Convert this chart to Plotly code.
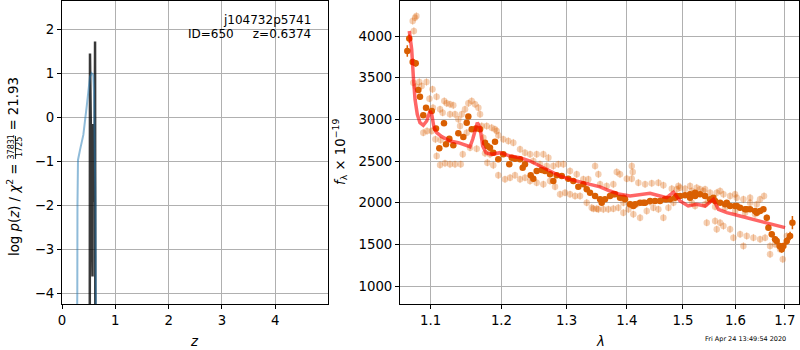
import plotly.graph_objects as go

# ---------------- data: left panel (redshift PDF) ----------------
z_blue = [0.27, 0.287, 0.29, 0.30, 0.338, 0.40, 0.463, 0.525, 0.557, 0.587, 0.60, 0.615, 0.628, 0.634, 0.64]
logp_blue = [-6.0, -4.0, -2.0, -0.97, -0.74, -0.4, 0.24, 0.92, 1.0, 0.96, 0.6, -0.5, -1.95, -4.0, -6.0]

z_black = [0.52, 0.525, 0.572, 0.576, 0.61, 0.62, 0.626]
logp_black = [-6.0, 1.45, -3.62, -0.15, -1.92, 1.72, -6.0]

# ---------------- data: right panel (spectrum) ----------------
wave_light = [1.0790, 1.0808, 1.0759, 1.0775, 1.0767, 1.0801, 1.0847, 1.0878, 1.0943, 1.1024, 1.0983, 1.1080,
              1.1031, 1.1127, 1.1185, 1.1217, 1.1264, 1.1310, 1.1163, 1.1264, 1.1334, 1.0900, 1.0951, 1.1014,
              1.1064, 1.1136, 1.1081, 1.1127, 1.1195, 1.1264, 1.1334, 1.1414, 1.1380, 1.1428, 1.1474, 1.1521,
              1.1569, 1.1616, 1.1664, 1.1688, 1.1404, 1.1498, 1.1712, 1.1784, 1.1856, 1.1930, 1.1736, 1.1545,
              1.1640, 1.1760, 1.1832, 1.1793, 1.1880, 1.1953, 1.1442,
              1.1905, 1.1953, 1.2027, 1.2101, 1.2176, 1.2277, 1.2352, 1.2429, 1.2531, 1.2634, 1.2713, 1.2052,
              1.2127, 1.2201, 1.2277, 1.2352, 1.2429, 1.2531, 1.2634, 1.2738, 1.2817, 1.2896, 1.2975, 1.3055,
              1.3136, 1.3217, 1.3326, 1.3408, 1.3491, 1.2479, 1.2582, 1.2687, 1.2790, 1.2869, 1.2949, 1.3055,
              1.3163, 1.3271, 1.3352, 1.3463,
              1.3518, 1.3827, 1.3883, 1.4102, 1.4085, 1.3999, 1.4085, 1.4199, 1.4317, 1.4435, 1.4553, 1.4643,
              1.4795, 1.4916, 1.5038, 1.3546, 1.3657, 1.3769, 1.3435, 1.3518, 1.3601, 1.3685, 1.3769, 1.3854,
              1.3940, 1.4026, 1.4112, 1.4229, 1.4346, 1.4464, 1.4553, 1.4643, 1.4734, 1.4825, 1.3940, 1.4055,
              1.4171, 1.4405,
              1.5256, 1.5381, 1.5508, 1.5636, 1.5765, 1.5894, 1.6025, 1.6157, 1.6290, 1.6424, 1.6572, 1.5163,
              1.5445, 1.5604, 1.5700, 1.5765, 1.5636, 1.5894, 1.5959, 1.6091, 1.6223, 1.6157, 1.6357, 1.6491,
              1.6593, 1.6695, 1.6798, 1.6902, 1.6958, 1.6695, 1.7042, 1.5477, 1.4886, 1.5163, 1.4946, 1.5131,
              1.5318, 1.5225, 1.5413, 1.5604, 1.5797, 1.5992, 1.6190, 1.6390, 1.5413, 1.5700, 1.5992, 1.6290,
              1.6491]
flux_light = [4220, 4240, 4180, 4060, 3440, 3392, 3448, 3400, 3448, 3360, 3248, 3272,
              3140, 3120, 3220, 3192, 3180, 3168, 3080, 3060, 3060, 2840, 2860, 2860,
              2760, 2752, 2560, 2452, 2472, 2460, 2460, 2460, 3000, 3060, 3120, 3192,
              3220, 3180, 3140, 3060, 2920, 2840, 2920, 2920, 2900, 2860, 2780, 2660,
              2648, 2592, 2580, 2480, 2448, 2328, 2580,
              2880, 2808, 2760, 2740, 2720, 2640, 2600, 2580, 2580, 2580, 2540, 2280,
              2300, 2328, 2280, 2300, 2260, 2240, 2220, 2260, 2192, 2100, 2120, 2100,
              2080, 2080, 2000, 1940, 1928, 2500, 2460, 2440, 2440, 2460, 2460, 2380,
              2340, 2280, 2280, 2440,
              2340, 2368, 2340, 2368, 2440, 2288, 2288, 2240, 2220, 2232, 2240, 2208,
              2168, 2200, 2168, 2220, 2200, 2220, 1928, 1920, 1920, 1920, 1928, 1940,
              1880, 1920, 1860, 1820, 1900, 1940, 1920, 1820, 1940, 2000, 2000, 1980,
              1980, 2008,
              2180, 2140, 2120, 2120, 2100, 2080, 2060, 2040, 2000, 1980, 2080, 2000,
              1760, 1780, 1760, 1720, 1680, 1680, 1580, 1620, 1600, 1480, 1580, 1560,
              1580, 1480, 1500, 1440, 1320, 1380, 1600, 2020, 2160, 2140, 2180, 2200,
              2160, 1960, 1980, 1950, 1940, 1900, 1880, 1860, 2160, 2140, 2100, 2060,
              2040]
err_light = [45] * len(flux_light)

wave_dark = [1.0688, 1.0714, 1.0759, 1.0799, 1.0834, 1.0856, 1.0900, 1.0937, 1.1014, 1.1072, 1.1117, 1.1181,
             1.1209, 1.1255, 1.1310, 1.1380, 1.1450, 1.1498, 1.1521, 1.1569, 1.1630, 1.1688, 1.1760, 1.1793,
             1.1832, 1.1880, 1.1905, 1.1953, 1.2027, 1.2116, 1.2152, 1.2201, 1.2277, 1.2317, 1.2352, 1.2439,
             1.2479, 1.2531, 1.2609, 1.2660, 1.2738, 1.2790, 1.2843, 1.2923, 1.3028, 1.3108, 1.3189, 1.3271,
             1.3326, 1.3380, 1.3463, 1.3546, 1.3574, 1.3629, 1.3713, 1.3769, 1.3798, 1.3883, 1.3940, 1.3969,
             1.4055, 1.4112, 1.4142, 1.4229, 1.4287, 1.4317, 1.4405, 1.4494, 1.4583, 1.4673, 1.4704, 1.4764,
             1.4855, 1.4886, 1.4946, 1.5038, 1.5131, 1.5131, 1.5225, 1.5225, 1.5318, 1.5413, 1.5508, 1.5571,
             1.5604, 1.5700, 1.5797, 1.5830, 1.5894, 1.5992, 1.6026, 1.6091, 1.6190, 1.6224, 1.6290, 1.6390,
             1.6425, 1.6491, 1.6559, 1.6628, 1.6661, 1.6730, 1.6798, 1.6832, 1.6890, 1.6937, 1.6971, 1.7042,
             1.7111, 1.7160]
flux_dark = [3820, 3969, 3688, 3672, 3352, 3272, 3048, 3140, 3100, 2889, 2652, 2952,
             2700, 2768, 2688, 2832, 2788, 2960, 3033, 2880, 2889, 2880, 2720, 2680,
             2660, 2600, 2732, 2520, 2580, 2460, 2540, 2528, 2520, 2420, 2460, 2328,
             2288, 2380, 2392, 2380, 2340, 2260, 2328, 2320, 2288, 2260, 2192, 2220,
             2160, 2120, 2080, 2040, 2000, 2040, 2080, 2100, 2100, 2060, 2060, 2040,
             1980, 1960, 1980, 2000, 2000, 2000, 2020, 2020, 2020, 2040, 2040, 2040,
             2060, 2080, 2080, 2088, 2100, 2060, 2120, 2080, 2100, 2080, 2040, 2060,
             2020, 2000, 1980, 2000, 1960, 1960, 1960, 1940, 1920, 1920, 1920, 1900,
             1880, 1900, 1920, 1820, 1700, 1620, 1560, 1540, 1480, 1440, 1480, 1540,
             1600, 1760]
err_dark = [70, 50, 40, 40, 35, 35] + [30] * 93 + [35, 35, 35, 40, 40, 40, 40, 40, 45, 50, 80]

wave_model = [1.0714, 1.0746, 1.0767, 1.0790, 1.0820, 1.0856, 1.0900, 1.0946, 1.0991, 1.1014, 1.1045, 1.1081,
              1.1150, 1.1264, 1.1380, 1.1474, 1.1545, 1.1583, 1.1616, 1.1649, 1.1688, 1.1726, 1.1774, 1.1856,
              1.1979, 1.2127, 1.2277, 1.2429, 1.2582, 1.2738, 1.2896, 1.3055, 1.3217, 1.3298, 1.3546, 1.3713,
              1.3883, 1.4055, 1.4275, 1.4405, 1.4583, 1.4704, 1.4825, 1.4946, 1.5097, 1.5256, 1.5413, 1.5571,
              1.5668, 1.5830, 1.6091, 1.6357, 1.6559, 1.6833, 1.7006]
flux_model = [4060, 3840, 3520, 3240, 3060, 2960, 2928, 2980, 3100, 3060, 2900, 2840,
              2792, 2740, 2720, 2692, 2672, 2760, 2880, 2960, 2900, 2680, 2600, 2580,
              2600, 2560, 2540, 2500, 2440, 2380, 2320, 2280, 2248, 2230, 2190, 2140,
              2100, 2080, 2100, 2112, 2080, 2060, 2125, 2020, 1960, 1980, 1960, 2040,
              1920, 1880, 1840, 1800, 1760, 1728, 1700]

z_ticks = [0, 1, 2, 3, 4]
logp_ticks = [-4, -3, -2, -1, 0, 1, 2]
wave_ticks = [1.1, 1.2, 1.3, 1.4, 1.5, 1.6, 1.7]
wave_ticktext = ["1.1", "1.2", "1.3", "1.4", "1.5", "1.6", "1.7"]
flux_ticks = [1000, 1500, 2000, 2500, 3000, 3500, 4000]

# ---------------- figure ----------------
W, H = 800, 350
def px(x):
    return x / W
def py(y):
    return 1 - y / H

ORANGE = "rgb(217,95,2)"
ORANGE_L = "rgba(217,95,2,0.3)"

fig = go.Figure()
fig.add_trace(go.Scatter(x=z_black, y=logp_black, mode="lines",
                         line=dict(color="rgba(0,0,0,0.78)", width=2.5), xaxis="x", yaxis="y"))
fig.add_trace(go.Scatter(x=z_blue, y=logp_blue, mode="lines",
                         line=dict(color="rgba(31,119,180,0.5)", width=2), xaxis="x", yaxis="y"))

fig.add_trace(go.Scatter(x=wave_light, y=flux_light, mode="markers",
                         marker=dict(size=6.5, color=ORANGE_L, line=dict(width=0)),
                         error_y=dict(type="data", array=err_light, color=ORANGE_L, thickness=1, width=0),
                         xaxis="x2", yaxis="y2"))
fig.add_trace(go.Scatter(x=wave_dark, y=flux_dark, mode="markers",
                         marker=dict(size=6.5, color=ORANGE, line=dict(width=0)),
                         error_y=dict(type="data", array=err_dark, color=ORANGE, thickness=1.5, width=0),
                         xaxis="x2", yaxis="y2"))
fig.add_trace(go.Scatter(x=wave_model, y=flux_model, mode="lines",
                         line=dict(color="rgba(255,0,0,0.6)", width=3.5),
                         xaxis="x2", yaxis="y2"))

axis_common = dict(showline=True, linecolor="black", linewidth=1, mirror=True,
                   ticks="outside", ticklen=4, tickcolor="black", tickwidth=1,
                   showgrid=True, gridcolor="#b0b0b0", gridwidth=1, zeroline=False,
                   automargin=False, tickfont=dict(size=13.3, color="black"))

ydom = [py(304), py(1)]
fig.update_layout(
    width=W, height=H, margin=dict(l=0, r=0, t=0, b=0),
    paper_bgcolor="white", plot_bgcolor="white", showlegend=False,
    font=dict(family="DejaVu Sans", size=13.3, color="black"),
    xaxis=dict(domain=[px(62), px(327.5)], range=[0, 4.98], tickvals=z_ticks, anchor="y", **axis_common),
    yaxis=dict(domain=ydom, range=[-4.243, 2.643], tickvals=logp_ticks, anchor="x", **axis_common),
    xaxis2=dict(domain=[px(400), px(799.3)], type="log", range=[0.0250, 0.2382],
                tickvals=wave_ticks, ticktext=wave_ticktext, anchor="y2", **axis_common),
    yaxis2=dict(domain=ydom, range=[784, 4420], tickvals=flux_ticks, anchor="x2", **axis_common),
)

ann = []
ann.append(dict(x=px(313), y=py(20), xref="paper", yref="paper", text="j104732p5741",
                showarrow=False, xanchor="right", yanchor="middle", font=dict(size=12)))
ann.append(dict(x=px(313), y=py(34.5), xref="paper", yref="paper",
                text="ID=650\u00a0\u00a0\u00a0\u00a0\u00a0z=0.6374",
                showarrow=False, xanchor="right", yanchor="middle", font=dict(size=12)))
# axis titles
ann.append(dict(x=px(194), y=py(341), xref="paper", yref="paper", text="<i>z</i>",
                showarrow=False, xanchor="center", yanchor="middle", font=dict(size=13.3)))
ann.append(dict(x=px(600), y=py(341), xref="paper", yref="paper", text="<i>λ</i>",
                showarrow=False, xanchor="center", yanchor="middle", font=dict(size=13.3)))
ann.append(dict(x=px(339), y=py(152), xref="paper", yref="paper",
                text="<i>f</i><sub>λ</sub> × 10<sup>−19</sup>", textangle=-90,
                showarrow=False, xanchor="center", yanchor="middle", font=dict(size=13.3)))
# left y label (with stacked fraction)
ann.append(dict(x=px(13), y=py(162), xref="paper", yref="paper",
                text="log <i>p</i>(<i>z</i>) / <i>χ</i><sup>2</sup> =", textangle=-90,
                showarrow=False, xanchor="center", yanchor="top", font=dict(size=13.3)))
ann.append(dict(x=px(13), y=py(133), xref="paper", yref="paper",
                text="= 21.93", textangle=-90,
                showarrow=False, xanchor="center", yanchor="bottom", font=dict(size=13.3)))
ann.append(dict(x=px(11), y=py(147.5), xref="paper", yref="paper", text="37831", textangle=-90,
                showarrow=False, xanchor="center", yanchor="middle", font=dict(size=8)))
ann.append(dict(x=px(19.5), y=py(147.5), xref="paper", yref="paper", text="1725", textangle=-90,
                showarrow=False, xanchor="center", yanchor="middle", font=dict(size=8)))
# timestamp
ann.append(dict(x=px(745), y=py(339), xref="paper", yref="paper", text="Fri Apr 24 13:49:54 2020",
                showarrow=False, xanchor="center", yanchor="middle", font=dict(size=6.5)))
fig.update_layout(annotations=ann)

fig.add_shape(type="line", xref="paper", yref="paper", x0=px(15.5), x1=px(15.5), y0=py(136), y1=py(159),
              line=dict(color="black", width=0.8))

fig.write_html("out.html", config={"displayModeBar": False},
               post_script="document.body.style.margin='0px';document.body.style.padding='0px';")
